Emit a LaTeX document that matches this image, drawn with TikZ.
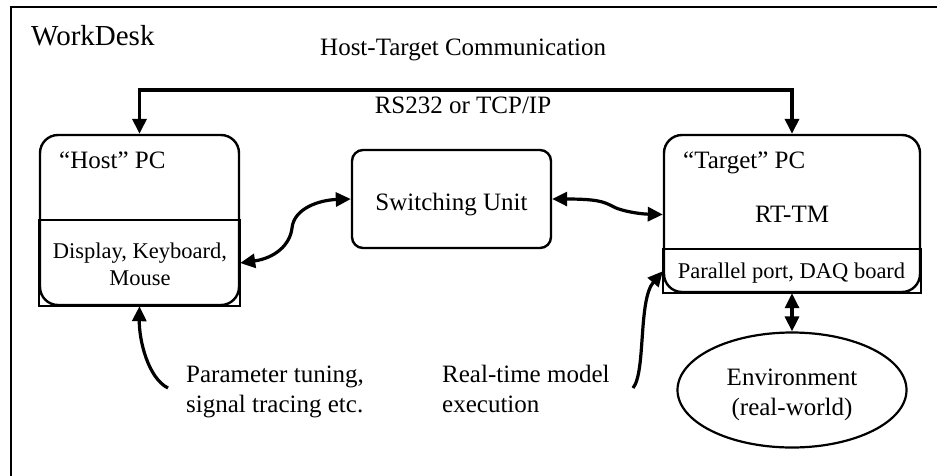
\documentclass[tikz,border=0pt]{standalone}
\usepackage{fontspec}
\setmainfont{Liberation Serif}
\usetikzlibrary{arrows.meta,shapes.geometric}

\begin{document}
\begin{tikzpicture}[x=1pt,y=-1pt,
  pcbox/.style={draw,line width=2.4pt,rounded corners=18pt,inner sep=0pt},
  compart/.style={draw,line width=2.4pt},
  link/.style={line width=3.2pt,{Triangle[length=15pt,width=14pt]}-{Triangle[length=15pt,width=14pt]}},
  tip/.style={line width=3.2pt,-{Triangle[length=15pt,width=14pt]}},
  big/.style={font=\fontsize{25}{30}\selectfont,inner sep=0pt},
  small/.style={font=\fontsize{22.5}{27}\selectfont,inner sep=0pt}]
\clip (0,0) rectangle (937,475);
% outer WorkDesk frame (runs past the page on the right and bottom)
\draw[line width=2.6pt] (11,7) rectangle (960,500);
\node[anchor=base west,font=\fontsize{29}{34}\selectfont,inner sep=0pt] (desk) at (31,45) {WorkDesk};
\node[big,anchor=base west] (comm) at (320,55) {Host-Target Communication};
\node[big,anchor=base] (proto) at (463,113) {RS232 or TCP/IP};

% host PC
\node[pcbox,minimum width=199pt,minimum height=170pt] (host) at (139.5,220) {};
\draw[compart] (host.west) rectangle (host.south east);
\node[big,anchor=base west] (hostlbl) at (59,168) {“Host” PC};
% multi-line nodes: the base anchor sits on the last line
\node[small,anchor=base,align=center] (hostio) at (140,285) {Display, Keyboard,\\Mouse};

% switching unit
\node[pcbox,rounded corners=11pt,minimum width=199pt,minimum height=98pt] (sw) at (451.5,199) {};
\node[big,anchor=base] (swlbl) at (451.5,210) {Switching Unit};

% target PC
\node[pcbox,minimum width=256pt,minimum height=157pt] (target) at (792,213.5) {};
\coordinate (tdiv) at (0,249);
\draw[compart] (target.west |- tdiv) rectangle (target.south east);
\node[big,anchor=base west] (tgtlbl) at (683,168) {“Target” PC};
\node[big,anchor=base] (rttm) at (792,222) {RT-TM};
\node[small,anchor=base] (tgtio) at (791.5,278) {Parallel port, DAQ board};

% environment
\node[draw,ellipse,line width=2.2pt,minimum width=229pt,minimum height=115pt] (env) at (792,390) {};
\node[big,anchor=base,align=center] (envlbl) at (792,415) {Environment\\(real-world)};

% captions
\node[big,anchor=base west,align=left] (tune) at (186,412) {Parameter tuning,\\signal tracing etc.};
\node[big,anchor=base west,align=left] (exec) at (442,412) {Real-time model\\execution};

% host-target serial / network link
\coordinate (bus) at (0,90);
\draw[link,line width=3.5pt,line join=miter] (host.north) -- (host.north |- bus) -| (target.north);

% switching unit links
\draw[link] ([yshift=-43pt]host.east) .. controls (275,258) and (290,245) .. (292,228)
  .. controls (294,208) and (320,200) .. (sw.west);
\draw[link] (sw.east) .. controls (598,199) and (604,202) .. (612,206)
  .. controls (620,211) and (640,214) .. ([yshift=-1pt]target.west);

% target to environment
\draw[link] (target.south) -- (env.north);

% caption pointers
\coordinate (tunefrom) at (168,388);
\draw[tip] (tunefrom) .. controls (148,378) and (139,340) .. (host.south);
\coordinate (execfrom) at (633,388);
\draw[tip] (execfrom) .. controls (646,372) and (638,300) .. ([yshift=22pt]target.south west);
\end{tikzpicture}
\end{document}
